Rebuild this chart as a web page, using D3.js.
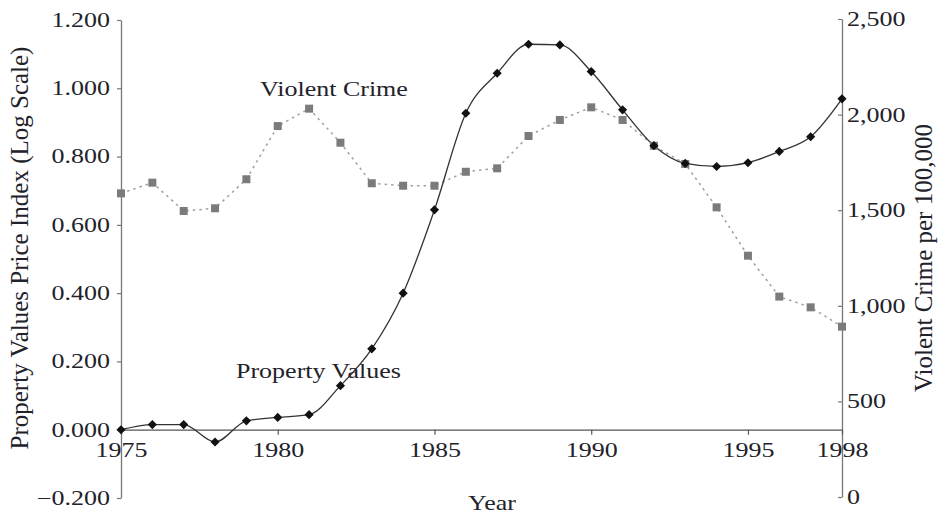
<!DOCTYPE html>
<html>
<head>
<meta charset="utf-8">
<script src="https://cdn.jsdelivr.net/npm/d3@7"></script>
<style>
  body { margin: 0; background: #fff; }
  text { font-family: "Liberation Serif", "Times New Roman", serif; fill: #22222a; }
</style>
</head>
<body>
<svg width="949" height="515"></svg>
<script>
// data
var years = [1975, 1976, 1977, 1978, 1979, 1980, 1981, 1982, 1983, 1984, 1985, 1986,
             1987, 1988, 1989, 1990, 1991, 1992, 1993, 1994, 1995, 1996, 1997, 1998];
var propertyValues = [0.000, 0.015, 0.015, -0.036, 0.026, 0.036, 0.044, 0.129, 0.237, 0.400, 0.644, 0.927,
                      1.044, 1.129, 1.127, 1.049, 0.937, 0.832, 0.780, 0.771, 0.782, 0.815, 0.858, 0.969];
var violentCrime = [1588, 1644, 1496, 1510, 1662, 1940, 2031, 1853, 1641, 1628, 1628, 1701,
                    1719, 1888, 1972, 2038, 1972, 1837, 1742, 1515, 1262, 1048, 992, 891];
var xTicks = [1975, 1980, 1985, 1990, 1995, 1998];
var leftTicks = [-0.2, 0, 0.2, 0.4, 0.6, 0.8, 1.0, 1.2];
var rightTicks = [0, 500, 1000, 1500, 2000, 2500];

var svg = d3.select("svg");
var stretchX = 1.3;

var x = d3.scaleLinear().domain([1975, 1998]).range([121, 842]);
var yL = d3.scaleLinear().domain([-0.2, 1.2]).range([498, 20]);
var yR = d3.scaleLinear().domain([0, 2500]).range([497, 19]);

// the serif in the picture is wider than Liberation Serif, so widen text around its anchor
function stretch(sel) {
  sel.attr("transform", function() {
    var tx = +this.getAttribute("x") || 0;
    return "translate(" + tx + ",0) scale(" + stretchX + ",1) translate(" + (-tx) + ",0)";
  });
}

function styleAxis(g, col) {
  g.select(".domain").attr("stroke", col).attr("stroke-width", 1.3);
  g.selectAll(".tick line").attr("stroke", col).attr("stroke-width", 1.2);
  g.selectAll(".tick text").style("font-size", "20px").attr("fill", "#22222a")
    .style("font-family", "'Liberation Serif', serif");
  stretch(g.selectAll(".tick text"));
}

// left axis
var gl = svg.append("g")
  .attr("transform", "translate(121,0)")
  .call(d3.axisLeft(yL).tickValues(leftTicks).tickFormat(d3.format(".3f"))
    .tickSize(4).tickPadding(7).tickSizeOuter(0));
styleAxis(gl, "#777");

// right axis
var gr = svg.append("g")
  .attr("transform", "translate(842,0)")
  .call(d3.axisRight(yR).tickValues(rightTicks).tickFormat(d3.format(","))
    .tickSize(-4).tickPadding(5).tickSizeOuter(0));
styleAxis(gr, "#777");

// x axis sits on the zero line
var gx = svg.append("g")
  .attr("transform", "translate(0," + yL(0) + ")")
  .call(d3.axisBottom(x).tickValues(xTicks).tickFormat(d3.format("d"))
    .tickSize(5).tickPadding(8).tickSizeOuter(0));
styleAxis(gx, "#555");

// axis titles
svg.append("text")
  .attr("transform", "translate(28,248) rotate(-90)")
  .attr("text-anchor", "middle")
  .style("font-size", "25px")
  .text("Property Values Price Index (Log Scale)");

svg.append("text")
  .attr("transform", "translate(932,258) rotate(-90)")
  .attr("text-anchor", "middle")
  .style("font-size", "25px")
  .text("Violent Crime per 100,000");

svg.append("text")
  .attr("x", 492).attr("y", 510)
  .attr("text-anchor", "middle")
  .style("font-size", "20px")
  .text("Year")
  .call(stretch);

// violent crime, dotted grey
var crimeLine = d3.line()
  .x(function(d, i) { return x(years[i]); })
  .y(function(d) { return yR(d); });

svg.append("path")
  .datum(violentCrime)
  .attr("d", crimeLine)
  .attr("fill", "none")
  .attr("stroke", "#a0a0a0")
  .attr("stroke-width", 1.5)
  .attr("stroke-dasharray", "2.5,4");

// property values, smooth black
var propLine = d3.line()
  .x(function(d, i) { return x(years[i]); })
  .y(function(d) { return yL(d); })
  .curve(d3.curveMonotoneX);

svg.append("path")
  .datum(propertyValues)
  .attr("d", propLine)
  .attr("fill", "none")
  .attr("stroke", "#333")
  .attr("stroke-width", 1.3);

svg.append("g").selectAll("path")
  .data(violentCrime)
  .enter().append("path")
  .attr("transform", function(d, i) { return "translate(" + x(years[i]) + "," + yR(d) + ")"; })
  .attr("d", d3.symbol(d3.symbolSquare, 64))
  .attr("fill", "#7b7b7b");

svg.append("g").selectAll("path")
  .data(propertyValues)
  .enter().append("path")
  .attr("transform", function(d, i) { return "translate(" + x(years[i]) + "," + yL(d) + ") rotate(45)"; })
  .attr("d", d3.symbol(d3.symbolSquare, 42))
  .attr("fill", "#111");

// series labels
svg.append("text")
  .attr("x", 260).attr("y", 96)
  .style("font-size", "20px")
  .text("Violent Crime")
  .call(stretch);

svg.append("text")
  .attr("x", 236).attr("y", 378)
  .style("font-size", "20px")
  .text("Property Values")
  .call(stretch);
</script>
</body>
</html>
